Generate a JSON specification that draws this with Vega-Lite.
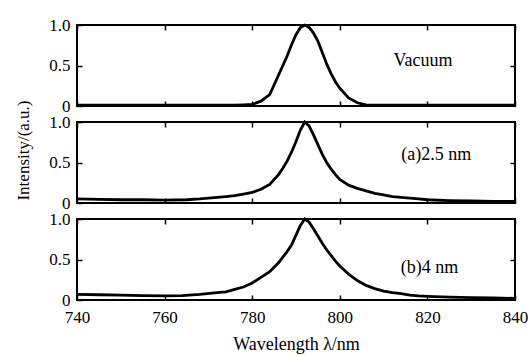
{
  "$schema": "https://vega.github.io/schema/vega-lite/v6.json",
  "padding": {"left": 13, "top": 15, "right": 5, "bottom": 0},
  "background": "white",
  "bounds": "flush",
  "spacing": 16,
  "config": {
    "view": {"stroke": "black", "strokeWidth": 2},
    "axis": {
      "labelFont": "Liberation Serif", "labelFontSize": 17, "labelColor": "black",
      "tickColor": "black", "tickWidth": 1.5, "tickSize": -5,
      "domain": false, "grid": false, "minExtent": 0,
      "titleFont": "Liberation Serif", "titleFontWeight": "normal", "titleColor": "black", "titleFontSize": 17
    },
    "line": {"color": "black", "strokeWidth": 2.8},
    "text": {"font": "Liberation Serif", "fontSize": 18, "color": "black"}
  },
  "datasets": {
    "vac": [
      {"wl": 740, "I": 0.01}, {"wl": 750, "I": 0.01}, {"wl": 760, "I": 0.01}, {"wl": 770, "I": 0.01},
      {"wl": 776, "I": 0.012}, {"wl": 778, "I": 0.015}, {"wl": 780, "I": 0.02}, {"wl": 782, "I": 0.06},
      {"wl": 784, "I": 0.14}, {"wl": 786, "I": 0.38}, {"wl": 787, "I": 0.5}, {"wl": 788, "I": 0.62},
      {"wl": 789, "I": 0.76}, {"wl": 790, "I": 0.88}, {"wl": 791, "I": 0.97}, {"wl": 792, "I": 1.0},
      {"wl": 793, "I": 0.97}, {"wl": 794, "I": 0.9}, {"wl": 795, "I": 0.8}, {"wl": 796, "I": 0.66},
      {"wl": 797, "I": 0.52}, {"wl": 798, "I": 0.4}, {"wl": 799, "I": 0.3}, {"wl": 800, "I": 0.22},
      {"wl": 802, "I": 0.1}, {"wl": 804, "I": 0.04}, {"wl": 806, "I": 0.015}, {"wl": 808, "I": 0.01},
      {"wl": 815, "I": 0.01}, {"wl": 820, "I": 0.01}, {"wl": 830, "I": 0.01}, {"wl": 840, "I": 0.01}
    ],
    "a": [
      {"wl": 740, "I": 0.05}, {"wl": 745, "I": 0.045}, {"wl": 750, "I": 0.04}, {"wl": 755, "I": 0.04},
      {"wl": 760, "I": 0.035}, {"wl": 765, "I": 0.04}, {"wl": 768, "I": 0.05}, {"wl": 770, "I": 0.06},
      {"wl": 772, "I": 0.07}, {"wl": 774, "I": 0.08}, {"wl": 776, "I": 0.09}, {"wl": 778, "I": 0.11},
      {"wl": 780, "I": 0.13}, {"wl": 782, "I": 0.17}, {"wl": 784, "I": 0.23}, {"wl": 786, "I": 0.35},
      {"wl": 787, "I": 0.43}, {"wl": 788, "I": 0.52}, {"wl": 789, "I": 0.63}, {"wl": 790, "I": 0.76},
      {"wl": 791, "I": 0.9}, {"wl": 792, "I": 1.0}, {"wl": 793, "I": 0.95}, {"wl": 794, "I": 0.84},
      {"wl": 795, "I": 0.72}, {"wl": 796, "I": 0.6}, {"wl": 797, "I": 0.5}, {"wl": 798, "I": 0.42},
      {"wl": 799, "I": 0.35}, {"wl": 800, "I": 0.29}, {"wl": 802, "I": 0.22}, {"wl": 804, "I": 0.18},
      {"wl": 806, "I": 0.15}, {"wl": 808, "I": 0.12}, {"wl": 810, "I": 0.1}, {"wl": 812, "I": 0.08},
      {"wl": 814, "I": 0.07}, {"wl": 816, "I": 0.06}, {"wl": 818, "I": 0.05}, {"wl": 820, "I": 0.04},
      {"wl": 825, "I": 0.03}, {"wl": 830, "I": 0.025}, {"wl": 835, "I": 0.02}, {"wl": 840, "I": 0.02}
    ],
    "b": [
      {"wl": 740, "I": 0.07}, {"wl": 745, "I": 0.065}, {"wl": 750, "I": 0.06}, {"wl": 755, "I": 0.055},
      {"wl": 760, "I": 0.05}, {"wl": 764, "I": 0.055}, {"wl": 768, "I": 0.07}, {"wl": 772, "I": 0.09},
      {"wl": 774, "I": 0.1}, {"wl": 776, "I": 0.13}, {"wl": 778, "I": 0.16}, {"wl": 780, "I": 0.21},
      {"wl": 782, "I": 0.28}, {"wl": 784, "I": 0.35}, {"wl": 786, "I": 0.46}, {"wl": 788, "I": 0.6},
      {"wl": 789, "I": 0.68}, {"wl": 790, "I": 0.8}, {"wl": 791, "I": 0.92}, {"wl": 792, "I": 1.0},
      {"wl": 793, "I": 0.96}, {"wl": 794, "I": 0.88}, {"wl": 795, "I": 0.79}, {"wl": 796, "I": 0.7},
      {"wl": 797, "I": 0.62}, {"wl": 798, "I": 0.55}, {"wl": 799, "I": 0.48}, {"wl": 800, "I": 0.42},
      {"wl": 802, "I": 0.32}, {"wl": 804, "I": 0.24}, {"wl": 806, "I": 0.18}, {"wl": 808, "I": 0.14},
      {"wl": 810, "I": 0.11}, {"wl": 812, "I": 0.09}, {"wl": 814, "I": 0.08}, {"wl": 816, "I": 0.06},
      {"wl": 818, "I": 0.05}, {"wl": 820, "I": 0.045}, {"wl": 825, "I": 0.035}, {"wl": 830, "I": 0.03},
      {"wl": 835, "I": 0.025}, {"wl": 840, "I": 0.02}
    ]
  },
  "vconcat": [
    {
      "width": 438, "height": 81,
      "layer": [
        {
          "data": {"name": "vac"},
          "mark": {"type": "line"},
          "encoding": {
            "x": {"field": "wl", "type": "quantitative", "scale": {"domain": [740, 840], "nice": false, "zero": false},
                  "axis": {"values": [740, 760, 780, 800, 820, 840], "labels": false, "title": null, "maxExtent": 0}},
            "y": {"field": "I", "type": "quantitative", "scale": {"domain": [0, 1], "nice": false},
                  "axis": {"values": [0, 0.5, 1], "labelExpr": "datum.value == 0 ? '0' : format(datum.value, '.1f')", "labelPadding": 12, "labelFlush": false, "title": null}}
          }
        },
        {
          "data": {"values": [{"wl": 819, "I": 0.55, "label": "Vacuum"}]},
          "mark": {"type": "text"},
          "encoding": {
            "x": {"field": "wl", "type": "quantitative", "axis": {"orient": "top", "values": [740, 760, 780, 800, 820, 840], "labels": false, "title": null, "maxExtent": 0}},
            "y": {"field": "I", "type": "quantitative", "axis": {"orient": "right", "values": [0.5], "labels": false, "title": null, "maxExtent": 0}},
            "text": {"field": "label"}
          }
        }
      ],
      "resolve": {"axis": {"x": "independent", "y": "independent"}}
    },
    {
      "width": 438, "height": 81,
      "layer": [
        {
          "data": {"name": "a"},
          "mark": {"type": "line"},
          "encoding": {
            "x": {"field": "wl", "type": "quantitative", "scale": {"domain": [740, 840], "nice": false, "zero": false},
                  "axis": {"values": [740, 760, 780, 800, 820, 840], "labels": false, "title": null, "maxExtent": 0}},
            "y": {"field": "I", "type": "quantitative", "scale": {"domain": [0, 1], "nice": false},
                  "axis": {"values": [0, 0.5, 1], "labelExpr": "datum.value == 0 ? '0' : format(datum.value, '.1f')", "labelPadding": 12, "labelFlush": false, "title": "Intensity/(a.u.)", "titlePadding": 16, "titleY": 28}}
          }
        },
        {
          "data": {"values": [{"wl": 822, "I": 0.59, "label": "(a)2.5 nm"}]},
          "mark": {"type": "text"},
          "encoding": {
            "x": {"field": "wl", "type": "quantitative", "axis": {"orient": "top", "values": [740, 760, 780, 800, 820, 840], "labels": false, "title": null, "maxExtent": 0}},
            "y": {"field": "I", "type": "quantitative", "axis": {"orient": "right", "values": [0.5], "labels": false, "title": null, "maxExtent": 0}},
            "text": {"field": "label"}
          }
        }
      ],
      "resolve": {"axis": {"x": "independent", "y": "independent"}}
    },
    {
      "width": 438, "height": 81,
      "layer": [
        {
          "data": {"name": "b"},
          "mark": {"type": "line"},
          "encoding": {
            "x": {"field": "wl", "type": "quantitative", "scale": {"domain": [740, 840], "nice": false, "zero": false},
                  "axis": {"values": [740, 760, 780, 800, 820, 840], "labelPadding": 14, "labelFlush": false, "labelDx": -4, "title": "Wavelength λ/nm", "titleFontSize": 18, "titlePadding": 10}},
            "y": {"field": "I", "type": "quantitative", "scale": {"domain": [0, 1], "nice": false},
                  "axis": {"values": [0, 0.5, 1], "labelExpr": "datum.value == 0 ? '0' : format(datum.value, '.1f')", "labelPadding": 12, "labelFlush": false, "title": null}}
          }
        },
        {
          "data": {"values": [{"wl": 820.5, "I": 0.4, "label": "(b)4 nm"}]},
          "mark": {"type": "text"},
          "encoding": {
            "x": {"field": "wl", "type": "quantitative", "axis": {"orient": "top", "values": [740, 760, 780, 800, 820, 840], "labels": false, "title": null, "maxExtent": 0}},
            "y": {"field": "I", "type": "quantitative", "axis": {"orient": "right", "values": [0.5], "labels": false, "title": null, "maxExtent": 0}},
            "text": {"field": "label"}
          }
        }
      ],
      "resolve": {"axis": {"x": "independent", "y": "independent"}}
    }
  ]
}
